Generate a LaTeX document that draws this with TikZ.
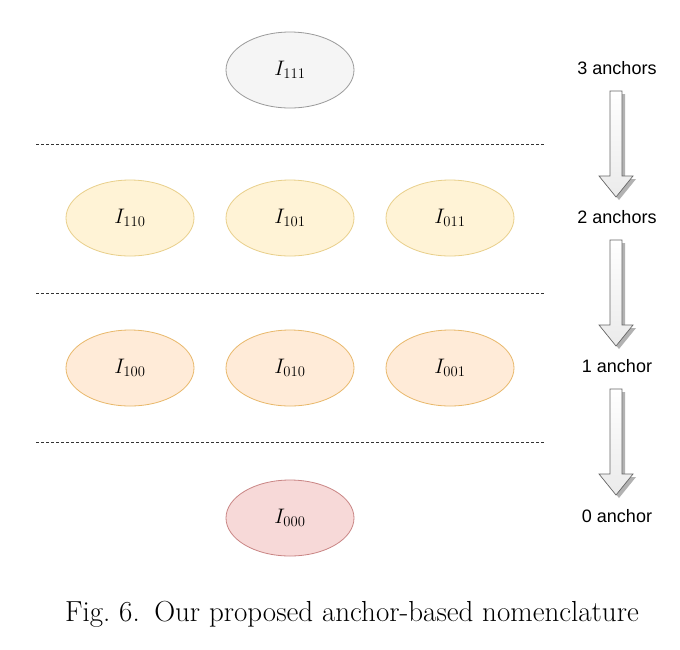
\documentclass[tikz,border=0pt]{standalone}
\usepackage{fix-cm}
\usepackage{fontspec}
\newfontfamily\lblfont{Liberation Sans}
\usetikzlibrary{shapes.geometric}
\definecolor{gfill}{HTML}{F5F5F5}
\definecolor{gdraw}{HTML}{9A9A9A}
\definecolor{yfill}{HTML}{FFF3D6}
\definecolor{ydraw}{HTML}{E8CF8A}
\definecolor{ofill}{HTML}{FFEBD8}
\definecolor{odraw}{HTML}{E8B86A}
\definecolor{rfill}{HTML}{F7D9D8}
\definecolor{rdraw}{HTML}{C98584}
\tikzset{
  ell/.style={ellipse, minimum width=128pt, minimum height=76pt, inner sep=0pt, line width=0.8pt, font=\fontsize{21}{21}\selectfont},
  lvl/.style={font=\lblfont\fontsize{18}{18}\selectfont, anchor=center},
  sep/.style={line width=0.7pt, dash pattern=on 3pt off 2pt, black!80},
}
\newcommand{\blockarrow}[2]{%
  \begin{scope}[shift={(#1,#2)}]
    \fill[black!30] (-6+3,3) -- (6+3,3) -- (6+3,85+3) -- (17+3,85+3) -- (0+3,106+3) -- (-17+3,85+3) -- (-6+3,85+3) -- cycle;
    \shade[top color=white, bottom color=black!8, draw=black!60, line width=0.7pt]
      (-6,0) -- (6,0) -- (6,85) -- (17,85) -- (0,106) -- (-17,85) -- (-6,85) -- cycle;
  \end{scope}}
\begin{document}
\begin{tikzpicture}[x=1pt,y=-1pt]
\useasboundingbox (0,0) rectangle (680,649);
\fill[white] (0,0) rectangle (680,649);
\node[ell, fill=gfill, draw=gdraw] (i111) at (290,70) {$I_{111}$};
\node[ell, fill=yfill, draw=ydraw] (i110) at (130,218) {$I_{110}$};
\node[ell, fill=yfill, draw=ydraw] (i101) at (290,218) {$I_{101}$};
\node[ell, fill=yfill, draw=ydraw] (i011) at (450,218) {$I_{011}$};
\node[ell, fill=ofill, draw=odraw] (i100) at (130,368) {$I_{100}$};
\node[ell, fill=ofill, draw=odraw] (i010) at (290,368) {$I_{010}$};
\node[ell, fill=ofill, draw=odraw] (i001) at (450,368) {$I_{001}$};
\node[ell, fill=rfill, draw=rdraw] (i000) at (290,518) {$I_{000}$};
\coordinate (d1a) at (36,144); \coordinate (d1b) at (545,144);
\coordinate (d2a) at (36,293); \coordinate (d2b) at (545,293);
\coordinate (d3a) at (36,442); \coordinate (d3b) at (545,442);
\draw[sep] (d1a) -- (d1b);
\draw[sep] (d2a) -- (d2b);
\draw[sep] (d3a) -- (d3b);
\node[lvl] (l3) at (617,68) {3 anchors};
\node[lvl] (l2) at (617,217) {2 anchors};
\node[lvl] (l1) at (617,366) {1 anchor};
\node[lvl] (l0) at (617,516) {0 anchor};
\blockarrow{616}{91}
\blockarrow{616}{240}
\blockarrow{616}{389}
\node[font=\fontsize{29}{29}\selectfont, anchor=center] (cap) at (352,614) {Fig.~6.\enspace Our proposed anchor-based nomenclature};
\end{tikzpicture}
\end{document}
